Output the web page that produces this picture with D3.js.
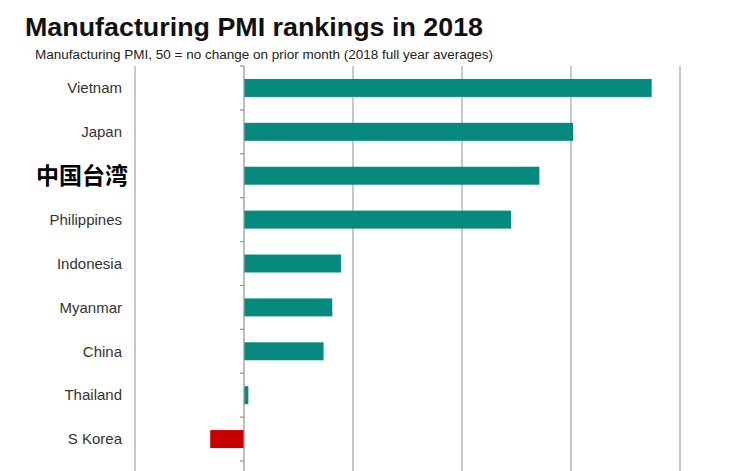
<!DOCTYPE html>
<html><head><meta charset="utf-8">
<script src="https://cdn.jsdelivr.net/npm/d3@7"></script>
<style>body{margin:0;background:#fff}svg{display:block}</style>
</head><body><svg id="c" width="741" height="471"></svg>
<script>
const categories = ["Vietnam","Japan","中国台湾","Philippines","Indonesia","Myanmar","China","Thailand","S Korea"];
const values = [53.74, 53.02, 52.71, 52.45, 50.89, 50.81, 50.73, 50.04, 49.69];
const gridTicks = [49, 51, 52, 53, 54];
const baseline = 50;

const svg = d3.select("#c");
const x = d3.scaleLinear().domain([49, 54]).range([135, 680]);
const y = d3.scaleBand().domain(categories).range([66, 461]).paddingInner(0.59).paddingOuter(0.295);

svg.append("text").attr("x", 25).attr("y", 36)
  .attr("font-family", "Liberation Sans, Arial, sans-serif").attr("font-weight", "bold")
  .attr("font-size", 26.5).attr("fill", "#111")
  .attr("textLength", 458).attr("lengthAdjust", "spacingAndGlyphs")
  .text("Manufacturing PMI rankings in 2018");
svg.append("text").attr("x", 35).attr("y", 59)
  .attr("font-family", "Liberation Sans, Arial, sans-serif")
  .attr("font-size", 12.5).attr("fill", "#222")
  .attr("textLength", 458).attr("lengthAdjust", "spacingAndGlyphs")
  .text("Manufacturing PMI, 50 = no change on prior month (2018 full year averages)");

// gridlines
svg.append("g").selectAll("line").data(gridTicks).join("line")
  .attr("x1", d => x(d)).attr("x2", d => x(d))
  .attr("y1", 66).attr("y2", 471)
  .attr("stroke", "#aaa").attr("stroke-width", 1.3);

// bars
svg.append("g").selectAll("rect").data(categories).join("rect")
  .attr("x", (d, i) => x(Math.min(values[i], baseline)))
  .attr("width", (d, i) => Math.abs(x(values[i]) - x(baseline)))
  .attr("y", d => y(d))
  .attr("height", y.bandwidth())
  .attr("fill", (d, i) => values[i] >= baseline ? "#078a7e" : "#c80000");

// zero axis with ticks
const axis = d3.axisLeft(y).tickSize(0).tickFormat("");
const ag = svg.append("g").attr("transform", `translate(${x(baseline)},0)`).call(axis);
ag.select(".domain").attr("stroke", "#999").attr("stroke-width", 1.3);
ag.select(".domain").attr("d", `M0,66V471`);
const bounds = d3.range(categories.length + 1).map(i => 66 + i * y.step());
ag.selectAll(".bt").data(bounds).join("line").attr("class", "bt")
  .attr("x1", -4).attr("x2", 0).attr("y1", d => d).attr("y2", d => d)
  .attr("stroke", "#999").attr("stroke-width", 1.3);

// category labels
svg.append("g").selectAll("text").data(categories).join("text")
  .attr("x", d => d === "中国台湾" ? 128 : 122)
  .attr("y", d => y(d) + y.bandwidth() / 2)
  .attr("dy", "0.35em")
  .attr("text-anchor", "end")
  .attr("font-family", d => d === "中国台湾" ? "Noto Sans CJK SC, sans-serif" : "Liberation Sans, Arial, sans-serif")
  .attr("font-weight", d => d === "中国台湾" ? "bold" : "normal")
  .attr("font-size", d => d === "中国台湾" ? 23 : 15)
  .attr("fill", d => d === "中国台湾" ? "#000" : "#333")
  .text(d => d);
</script></body></html>
